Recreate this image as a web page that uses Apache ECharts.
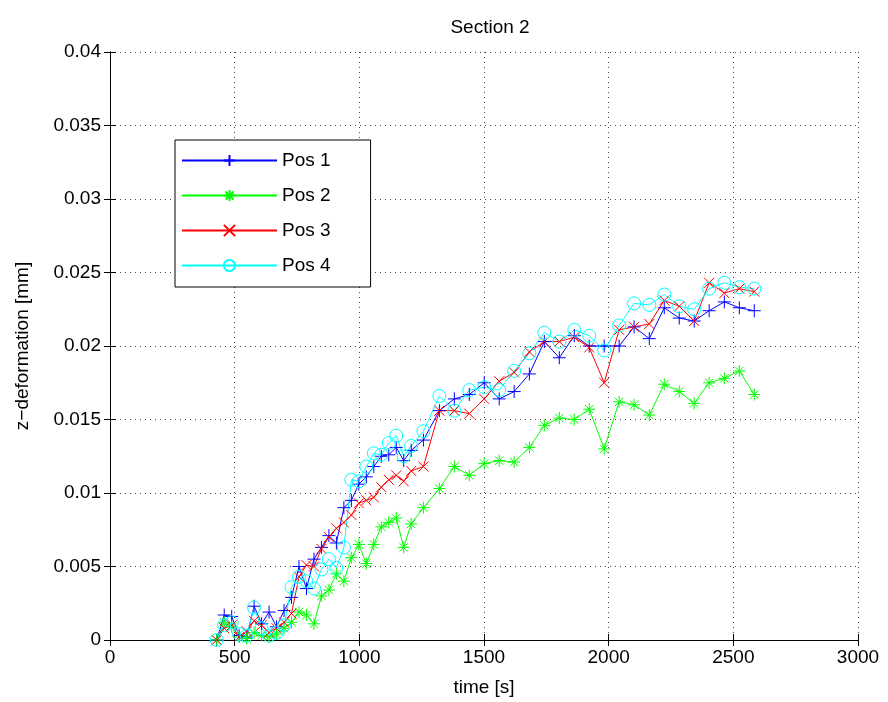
<!DOCTYPE html>
<html>
<head>
<meta charset="utf-8">
<script src="https://cdn.jsdelivr.net/npm/echarts@6/dist/echarts.min.js"></script>
<style>html,body{margin:0;padding:0;background:#fff}#c{width:888px;height:702px}</style>
</head>
<body>
<div id="c"></div>
<script>
const times = [428, 458, 488, 518, 548, 578, 608, 638, 668, 698, 728, 758, 788, 818, 848, 878, 908, 938, 968, 998, 1028, 1058, 1088, 1118, 1148, 1178, 1208,
  1257, 1321, 1381, 1441, 1501, 1561, 1621, 1682, 1742, 1802, 1862, 1922, 1982, 2042, 2102, 2163, 2223, 2283, 2343, 2403, 2464, 2524, 2584];
const pos1 = [0, 0.0017, 0.0016, 0.0003, 0.0002, 0.0023, 0.0011, 0.0019, 0.0009, 0.0020, 0.0029, 0.0050, 0.0035, 0.0055, 0.0063, 0.0071, 0.0066, 0.0090, 0.0095, 0.0106, 0.0111, 0.0118, 0.0125, 0.0126, 0.0131, 0.0122, 0.0129,
  0.0136, 0.0156, 0.0164, 0.0167, 0.0175, 0.0164, 0.0169, 0.0181, 0.0203, 0.0192, 0.0207, 0.0200, 0.0200, 0.0200, 0.0213, 0.0205, 0.0226, 0.0219, 0.0217, 0.0224, 0.0230, 0.0226, 0.0224];
const pos2 = [0, 0.0012, 0.0009, 0.0002, 0.0001, 0.0005, 0.0003, 0.0002, 0.0004, 0.0008, 0.0012, 0.0019, 0.0017, 0.0011, 0.0030, 0.0034, 0.0045, 0.0040, 0.0056, 0.0065, 0.0052, 0.0065, 0.0077, 0.0080, 0.0083, 0.0063, 0.0079,
  0.0090, 0.0103, 0.0118, 0.0112, 0.0120, 0.0122, 0.0121, 0.0131, 0.0146, 0.0151, 0.0150, 0.0157, 0.0130, 0.0162, 0.0160, 0.0153, 0.0174, 0.0169, 0.0161, 0.0175, 0.0178, 0.0183, 0.0167];
const pos3 = [0, 0.0008, 0.0010, 0.0002, 0.0006, 0.0013, 0.0010, 0.0005, 0.0008, 0.0012, 0.0018, 0.0043, 0.0051, 0.0050, 0.0062, 0.0070, 0.0076, 0.0080, 0.0085, 0.0093, 0.0095, 0.0097, 0.0104, 0.0109, 0.0112, 0.0108, 0.0115,
  0.0118, 0.0156, 0.0156, 0.0154, 0.0164, 0.0176, 0.0182, 0.0196, 0.0203, 0.0203, 0.0206, 0.0199, 0.0175, 0.0211, 0.0213, 0.0215, 0.0231, 0.0227, 0.0217, 0.0243, 0.0236, 0.0239, 0.0237];
const pos4 = [0, 0.0010, 0.0012, 0.0004, 0.0003, 0.0022, 0.0008, 0.0003, 0.0005, 0.0010, 0.0036, 0.0043, 0.0040, 0.0035, 0.0048, 0.0055, 0.0049, 0.0063, 0.0109, 0.0108, 0.0118, 0.0127, 0.0126, 0.0134, 0.0139, 0.0125, 0.0132,
  0.0142, 0.0166, 0.0156, 0.0170, 0.0172, 0.0170, 0.0183, 0.0195, 0.0209, 0.0203, 0.0211, 0.0207, 0.0197, 0.0214, 0.0229, 0.0228, 0.0235, 0.0227, 0.0225, 0.0239, 0.0243, 0.0240, 0.0239];
const seriesNames = ['Pos 1', 'Pos 2', 'Pos 3', 'Pos 4'];
const xTickLabels = ['0', '500', '1000', '1500', '2000', '2500', '3000'];
const yTickLabels = ['0', '0.005', '0.01', '0.015', '0.02', '0.025', '0.03', '0.035', '0.04'];

const FONT = 'Liberation Sans, Arial, Helvetica, sans-serif';
const FS = 19;
function pairs(ys) { return times.map((t, i) => [t, ys[i]]); }
const symPlus = 'path://M0,-1L0,1M-1,0L1,0';
const symStar = 'path://M0,-1L0,1M-1,0L1,0M-0.7,-0.7L0.7,0.7M-0.7,0.7L0.7,-0.7';
const symX = 'path://M-1,-1L1,1M-1,1L1,-1';
function mk(name, data, color, symbol, size) {
  return {
    name: name, type: 'line', data: pairs(data), xAxisIndex: 0, yAxisIndex: 0,
    symbol: symbol, symbolSize: size, showAllSymbol: true,
    lineStyle: { color: color, width: 1 },
    itemStyle: { color: 'none', borderColor: color, borderWidth: 1 },
    emphasis: { disabled: true }, animation: false
  };
}
const axisCommon = {
  min: 0, axisLine: { show: true, lineStyle: { color: '#000', width: 1 } },
  axisTick: { show: true, inside: true, length: 6, lineStyle: { color: '#000' } },
  splitLine: { show: false }
};
const chart = echarts.init(document.getElementById('c'), null, { renderer: 'canvas' });
chart.setOption({
  animation: false,
  backgroundColor: '#fff',
  title: { text: 'Section 2', left: 485, top: 13, textAlign: 'center',
    textStyle: { fontFamily: FONT, fontSize: FS, fontWeight: 'normal', color: '#000' } },
  grid: { left: 110, right: 30, top: 52, bottom: 62, containLabel: false },
  legend: {
    left: 175, top: 140, orient: 'vertical', selectedMode: false,
    data: seriesNames,
    itemWidth: 95, itemHeight: 14, itemGap: 16,
    padding: [11, 40, 12, 6],
    borderColor: '#000', borderWidth: 1, backgroundColor: '#fff',
    textStyle: { fontFamily: FONT, fontSize: FS, color: '#000' }
  },
  xAxis: [
    Object.assign({}, axisCommon, {
      type: 'value', max: 3000, interval: 500, position: 'bottom',
      name: 'time [s]', nameLocation: 'middle', nameGap: 38,
      nameTextStyle: { fontFamily: FONT, fontSize: FS, color: '#000' },
      axisLabel: { margin: 8, fontFamily: FONT, fontSize: FS, color: '#000',
        formatter: v => xTickLabels[Math.round(v / 500)] },
      splitLine: { show: true, lineStyle: { color: '#444', width: 1, type: [1, 4] } }
    }),
    Object.assign({}, axisCommon, {
      type: 'value', max: 3000, interval: 500, position: 'top',
      axisLabel: { show: false }
    })
  ],
  yAxis: [
    Object.assign({}, axisCommon, {
      type: 'value', max: 0.04, interval: 0.005, position: 'left',
      name: 'z\u2212deformation [mm]', nameLocation: 'middle', nameGap: 78,
      nameTextStyle: { fontFamily: FONT, fontSize: FS, color: '#000' },
      axisLabel: { margin: 9, fontFamily: FONT, fontSize: FS, color: '#000',
        formatter: v => yTickLabels[Math.round(v / 0.005)] },
      splitLine: { show: true, lineStyle: { color: '#444', width: 1, type: [1, 4] } }
    }),
    Object.assign({}, axisCommon, {
      type: 'value', max: 0.04, interval: 0.005, position: 'right',
      axisLabel: { show: false }
    })
  ],
  series: [
    mk(seriesNames[0], pos1, '#0000ff', symPlus, 13),
    mk(seriesNames[1], pos2, '#00ff00', symStar, 12),
    mk(seriesNames[2], pos3, '#ff0000', symX, 10),
    mk(seriesNames[3], pos4, '#00ffff', 'circle', 13)
  ]
});
</script>
</body>
</html>
